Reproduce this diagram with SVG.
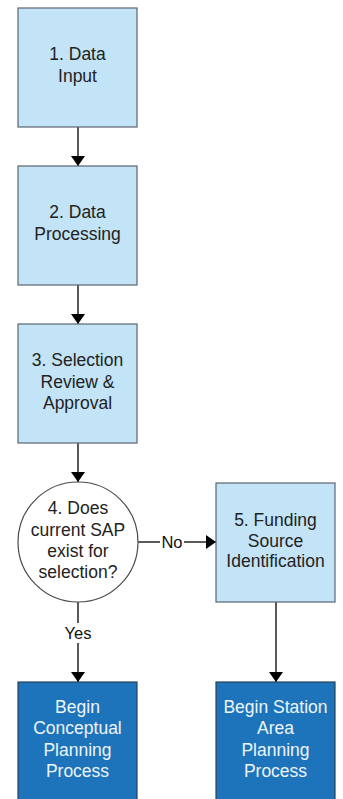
<svg xmlns="http://www.w3.org/2000/svg" width="343" height="799" viewBox="0 0 343 799">
  <style>
    .step { fill: #c3e3f6; stroke: #5a6570; stroke-width: 1.2; }
    .end { fill: #1d74bb; stroke: #2c4256; stroke-width: 1.2; }
    .decision { fill: #ffffff; stroke: #4a4a4a; stroke-width: 1.2; }
    text { font-family: "Liberation Sans", Arial, sans-serif; font-size: 17.5px; text-anchor: middle; }
    .dark { fill: #222222; }
    .light { fill: #eef5fb; }
    .wire { stroke: #000000; stroke-width: 1.3; fill: none; }
    .lbl { fill: #111111; font-size: 16.5px; }
  </style>
  <defs>
    <marker id="arrow" viewBox="0 0 10 14" refX="10" refY="7" markerWidth="10" markerHeight="14" markerUnits="userSpaceOnUse" orient="auto">
      <path d="M0,0 L10,7 L0,14 Z" fill="#000000"/>
    </marker>
  </defs>

  <g id="connectors">
    <line class="wire" x1="78" y1="127" x2="78" y2="166" marker-end="url(#arrow)"/>
    <line class="wire" x1="78" y1="285" x2="78" y2="324" marker-end="url(#arrow)"/>
    <line class="wire" x1="78" y1="443" x2="78" y2="482" marker-end="url(#arrow)"/>
    <!-- No branch -->
    <line class="wire" x1="138" y1="542" x2="160" y2="542"/>
    <line class="wire" x1="184" y1="542" x2="216" y2="542" marker-end="url(#arrow)"/>
    <text class="lbl" x="172" y="548">No</text>
    <!-- Yes branch -->
    <line class="wire" x1="78" y1="602" x2="78" y2="623"/>
    <line class="wire" x1="78" y1="643" x2="78" y2="682" marker-end="url(#arrow)"/>
    <text class="lbl" x="78" y="639">Yes</text>
    <line class="wire" x1="276" y1="602" x2="276" y2="682" marker-end="url(#arrow)"/>
  </g>

  <g id="data-input">
    <rect class="step" x="18" y="8" width="119" height="119"/>
    <text class="dark" x="77.5" y="60">1. Data</text>
    <text class="dark" x="77.5" y="82">Input</text>
  </g>

  <g id="data-processing">
    <rect class="step" x="18" y="166" width="119" height="119"/>
    <text class="dark" x="77.5" y="218">2. Data</text>
    <text class="dark" x="77.5" y="240">Processing</text>
  </g>

  <g id="selection-review">
    <rect class="step" x="18" y="324" width="119" height="119"/>
    <text class="dark" x="77.5" y="366">3. Selection</text>
    <text class="dark" x="77.5" y="388">Review &amp;</text>
    <text class="dark" x="77.5" y="409">Approval</text>
  </g>

  <g id="sap-exists">
    <circle class="decision" cx="78" cy="542" r="60"/>
    <text class="dark" x="78" y="514">4. Does</text>
    <text class="dark" x="78" y="536">current SAP</text>
    <text class="dark" x="78" y="557">exist for</text>
    <text class="dark" x="78" y="578">selection?</text>
  </g>

  <g id="funding-source">
    <rect class="step" x="216" y="483" width="119" height="119"/>
    <text class="dark" x="275.5" y="526">5. Funding</text>
    <text class="dark" x="275.5" y="547">Source</text>
    <text class="dark" x="275.5" y="567">Identification</text>
  </g>

  <g id="conceptual-planning">
    <rect class="end" x="18" y="682" width="119" height="125"/>
    <text class="light" x="77.5" y="713">Begin</text>
    <text class="light" x="77.5" y="734">Conceptual</text>
    <text class="light" x="77.5" y="756">Planning</text>
    <text class="light" x="77.5" y="777">Process</text>
  </g>

  <g id="station-area-planning">
    <rect class="end" x="216" y="682" width="119" height="125"/>
    <text class="light" x="275.5" y="713">Begin Station</text>
    <text class="light" x="275.5" y="734">Area</text>
    <text class="light" x="275.5" y="756">Planning</text>
    <text class="light" x="275.5" y="777">Process</text>
  </g>
</svg>
